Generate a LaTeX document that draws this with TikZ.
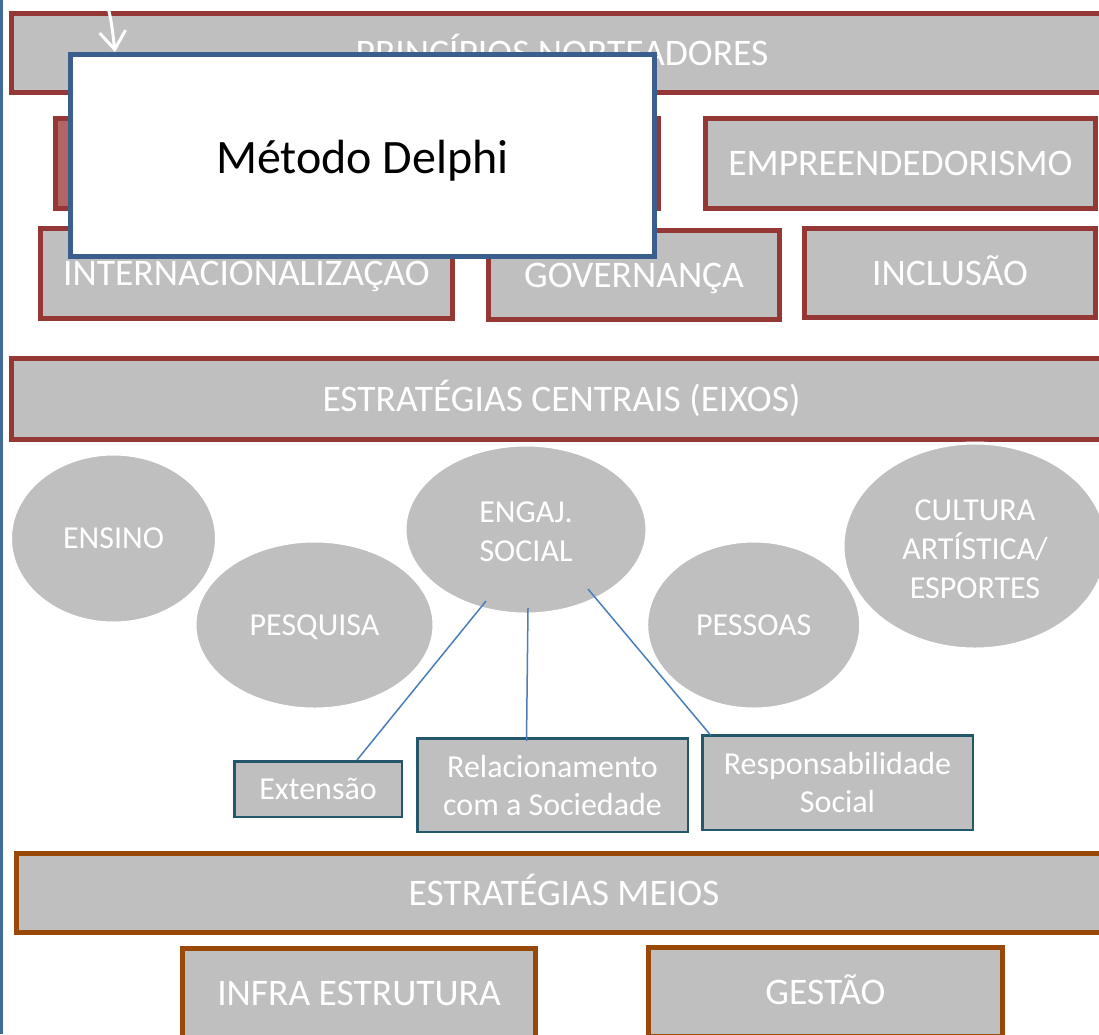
\documentclass[tikz,border=0pt]{standalone}
\usepackage{fontspec}
\setmainfont{Carlito}
\usetikzlibrary{shapes.geometric,arrows.meta}
\definecolor{boxgray}{HTML}{BFBFBF}
\definecolor{darkred}{HTML}{953735}
\definecolor{hiddenred}{HTML}{B26664}
\definecolor{delphiblue}{HTML}{3A5F8E}
\definecolor{leftblue}{HTML}{41699A}
\definecolor{tealline}{HTML}{23586A}
\definecolor{brownline}{HTML}{984807}
\definecolor{linkblue}{HTML}{4A7EBB}
\tikzset{
  capbig/.style={text height=24.2pt, text depth=0pt},
  capsmall/.style={text height=20.6pt, text depth=0pt},
  redbox/.style={draw=darkred, line width=5pt, fill=boxgray, text=white, inner sep=0pt,
    font=\fontsize{37.5}{42}\selectfont, capbig},
  brownbox/.style={draw=brownline, line width=5pt, fill=boxgray, text=white, inner sep=0pt,
    font=\fontsize{37.5}{42}\selectfont, capbig},
  delphibox/.style={draw=delphiblue, line width=5pt, fill=white, text=black, inner sep=0pt,
    font=\fontsize{48}{52}\selectfont, text height=35pt, text depth=0pt},
  oval/.style={ellipse, draw=white, line width=3pt, fill=boxgray, text=white, inner sep=0pt,
    align=center, font=\fontsize{32}{39}\selectfont},
  subbox/.style={draw=tealline, line width=2.5pt, fill=boxgray, text=white, inner sep=0pt,
    align=center, font=\fontsize{32}{38}\selectfont},
  link/.style={draw=linkblue, line width=1.5pt},
  whitearrow/.style={draw=white, line width=3pt, -{Straight Barb[length=18pt, width=26pt, line width=3pt]}}
}
\begin{document}
\begin{tikzpicture}[x=1pt, y=-1pt]
\useasboundingbox (0,0) rectangle (1099,1034);
\clip (0,0) rectangle (1099,1034);
\fill[white] (0,0) rectangle (1099,1034);
% left vertical line
\coordinate (ltop) at (1.5,0);
\coordinate (lbot) at (1.5,1034);
\draw[leftblue, line width=3pt] (ltop) -- (lbot);

% principios norteadores
\node[redbox, minimum width=1101pt, minimum height=79pt] (princ) at (562,53) {PRINCÍPIOS NORTEADORES};
\node[redbox, fill=hiddenred, minimum width=603pt, minimum height=90pt] (hidden) at (357,163.5) {};
\node[redbox, minimum width=390pt, minimum height=90pt] (empre) at (900.5,163.5) {EMPREENDEDORISMO};
\node[redbox, minimum width=412pt, minimum height=90pt] (inter) at (246.5,273.5) {INTERNACIONALIZAÇÃO};
\node[redbox, minimum width=291pt, minimum height=89pt] (gover) at (634,275) {GOVERNANÇA};
\node[redbox, minimum width=291pt, minimum height=89pt] (inclu) at (950,273) {INCLUSÃO};

% Metodo Delphi
\node[delphibox, minimum width=584pt, minimum height=202pt] (delphi) at (362.5,155.5) {Método Delphi};
\coordinate (arrstart) at (105,-3);
\coordinate (arrend) at (115,52);
\draw[whitearrow] (arrstart) .. controls (111,18) .. (arrend);

% estrategias centrais
\node[redbox, minimum width=1100pt, minimum height=81pt] (centr) at (561.5,399) {ESTRATÉGIAS CENTRAIS (EIXOS)};

% ellipses
\node[oval, capsmall, minimum width=206pt, minimum height=169pt] (ensino) at (113.5,538.5) {ENSINO};
\node[oval, capsmall, minimum width=239pt, minimum height=168pt] (pesq) at (314.5,625) {PESQUISA};
\node[oval, minimum width=242pt, minimum height=169pt] (engaj) at (526,529.5) {\rule{0pt}{25pt}ENGAJ.\\SOCIAL};
\node[oval, capsmall, minimum width=214pt, minimum height=168pt] (pessoas) at (753.7,625) {PESSOAS};
\node[oval, minimum width=264pt, minimum height=206pt] (cultura) at (975,546) {\rule{0pt}{27pt}CULTURA\\ARTÍSTICA/\\ESPORTES};

% sub boxes
\node[subbox, capsmall, minimum width=167.5pt, minimum height=55.5pt] (ext) at (318,789) {Extensão};
\node[subbox, minimum width=270.5pt, minimum height=93.5pt] (rel) at (552.5,785) {Relacionamento\\com a Sociedade};
\node[subbox, minimum width=270.5pt, minimum height=94.5pt] (resp) at (837.5,782.5) {Responsabilidade\\Social};

% links
\coordinate (l1) at (486,601);
\coordinate (l2) at (528,608);
\coordinate (l3) at (588,589);
\draw[link] (l1) -- ([xshift=39pt]ext.north);
\draw[link] (l2) -- ([xshift=-26pt, yshift=-4pt]rel.north);
\draw[link] (l3) -- ([xshift=-127pt, yshift=-1pt]resp.north);

% estrategias meios
\node[brownbox, minimum width=1095pt, minimum height=79pt] (meios) at (564,893) {ESTRATÉGIAS MEIOS};
\node[brownbox, minimum width=353pt, minimum height=89pt] (infra) at (359,993) {INFRA ESTRUTURA};
\node[brownbox, minimum width=354pt, minimum height=89pt] (gestao) at (825.5,992) {GESTÃO};
\end{tikzpicture}
\end{document}
